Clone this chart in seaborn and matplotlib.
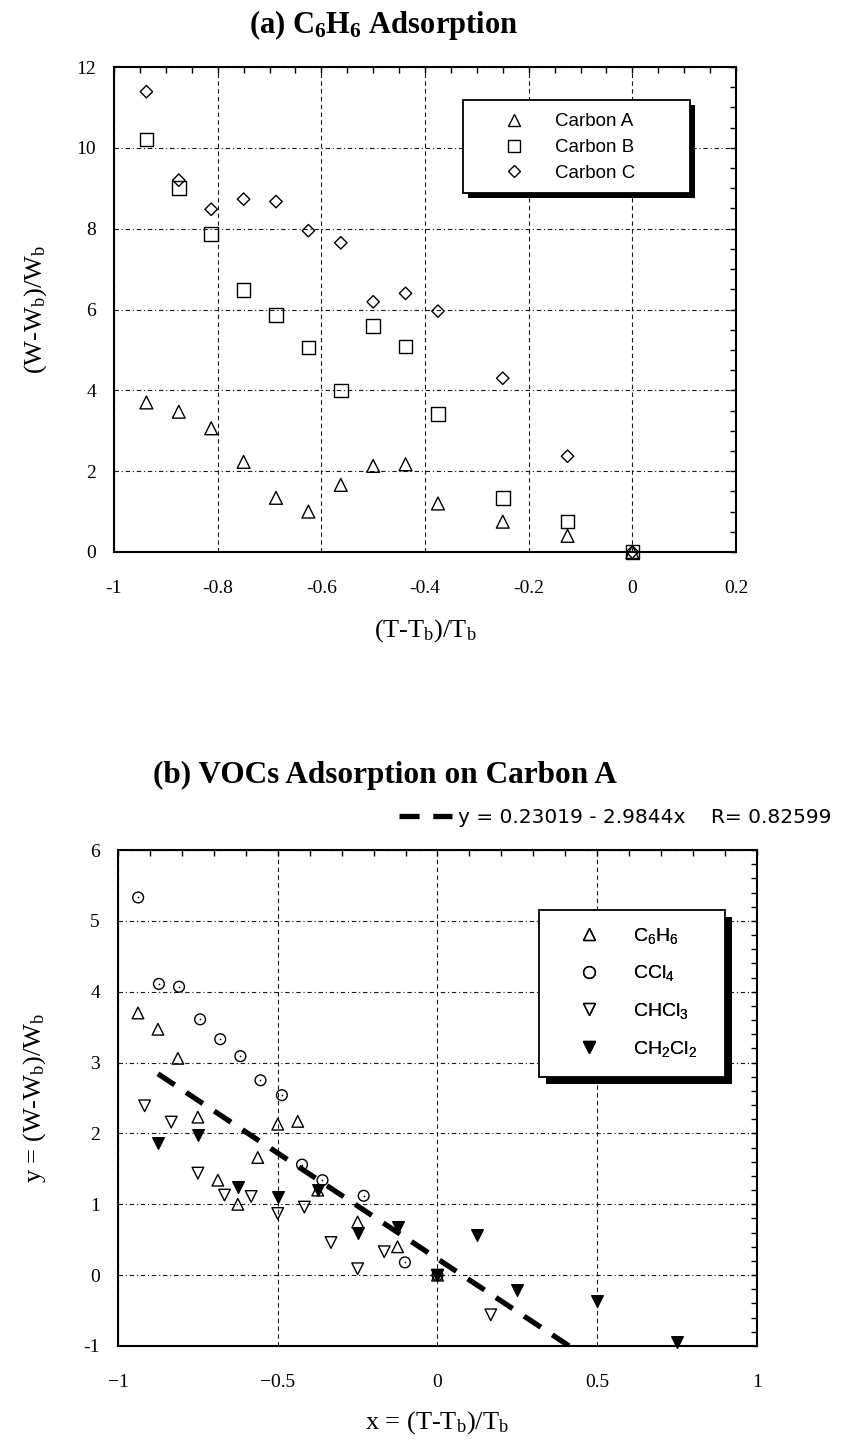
import numpy as np
import pandas as pd
import matplotlib
matplotlib.use("Agg")
import matplotlib.pyplot as plt
import matplotlib.patheffects as pe
from matplotlib.lines import Line2D
from matplotlib.patches import Rectangle
from matplotlib.ticker import MultipleLocator
import seaborn as sns

# ---------------- data: (a) benzene on three carbons ----------------
x_benzene = [-0.9375, -0.875, -0.8125, -0.75, -0.6875, -0.625, -0.5625,
             -0.5, -0.4375, -0.375, -0.25, -0.125, 0.0]
carbon_a = [3.70, 3.47, 3.06, 2.23, 1.34, 1.00, 1.66, 2.13, 2.17, 1.20, 0.75, 0.40, 0.0]
carbon_b = [10.21, 9.00, 7.87, 6.48, 5.86, 5.06, 4.00, 5.59, 5.08, 3.41, 1.34, 0.75, 0.0]
carbon_c = [11.39, 9.20, 8.48, 8.73, 8.67, 7.95, 7.65, 6.19, 6.40, 5.96, 4.30, 2.37, 0.0]

# ---------------- data: (b) VOCs on carbon A ----------------
x_ccl4 = [-0.937, -0.872, -0.809, -0.743, -0.680, -0.617, -0.554,
          -0.487, -0.424, -0.360, -0.231, -0.102, 0.0]
y_ccl4 = [5.33, 4.11, 4.07, 3.61, 3.33, 3.09, 2.75, 2.54, 1.56, 1.34, 1.12, 0.18, 0.0]

x_chcl3 = [-0.9167, -0.8333, -0.75, -0.6667, -0.5833, -0.5, -0.4167,
           -0.3333, -0.25, -0.1667, 0.0, 0.1667]
y_chcl3 = [2.39, 2.16, 1.44, 1.13, 1.11, 0.87, 0.96, 0.46, 0.09, 0.33, 0.0, -0.56]

x_ch2cl2 = [-0.875, -0.75, -0.625, -0.5, -0.375, -0.25, -0.125, 0.0,
            0.125, 0.25, 0.5, 0.75]
y_ch2cl2 = [1.86, 1.98, 1.24, 1.10, 1.20, 0.59, 0.68, 0.0, 0.56, -0.21, -0.37, -0.94]

# linear fit reported for panel (b)
fit_intercept = 0.23019
fit_slope = -2.9844
fit_r = 0.82599
fit_x_span = [-0.875, 0.75]

# ---------------- tick labels ----------------
a_xticks = [-1.0, -0.8, -0.6, -0.4, -0.2, 0.0, 0.2]
a_xlabels = ["-1", "-0.8", "-0.6", "-0.4", "-0.2", "0", "0.2"]
a_yticks = [0, 2, 4, 6, 8, 10, 12]
a_ylabels = ["0", "2", "4", "6", "8", "10", "12"]
b_xticks = [-1.0, -0.5, 0.0, 0.5, 1.0]
b_xlabels = ["\u22121", "\u22120.5", "0", "0.5", "1"]
b_yticks = [-1, 0, 1, 2, 3, 4, 5, 6]
b_ylabels = ["-1", "0", "1", "2", "3", "4", "5", "6"]

# ---------------- style ----------------
sns.set_style("white")
plt.rcParams["font.family"] = ["Liberation Serif", "DejaVu Serif"]
plt.rcParams["mathtext.default"] = "regular"
plt.rcParams["axes.linewidth"] = 1.5
for key in ("text.color", "axes.labelcolor", "xtick.color", "ytick.color",
            "axes.edgecolor"):
    plt.rcParams[key] = "black"

SANS = ["Liberation Sans", "DejaVu Sans"]

W, H = 854, 1441
fig = plt.figure(figsize=(W / 100, H / 100), dpi=100)
fig.patch.set_facecolor("white")


def px_axes(left, top, right, bottom):
    return [left / W, 1 - bottom / H, (right - left) / W, (bottom - top) / H]


ax1 = fig.add_axes(px_axes(114, 67, 736, 552))
ax2 = fig.add_axes(px_axes(118, 850, 757, 1346))


def style_axes(ax, xmaj, xmin, ymaj, ymin):
    ax.xaxis.set_major_locator(MultipleLocator(xmaj))
    ax.xaxis.set_minor_locator(MultipleLocator(xmin))
    ax.yaxis.set_major_locator(MultipleLocator(ymaj))
    ax.yaxis.set_minor_locator(MultipleLocator(ymin))
    ax.tick_params(which="both", direction="in", top=True, right=True,
                   length=4.5, width=1.0, color="black", labelsize=14,
                   labelcolor="black")
    ax.tick_params(axis="x", which="both", pad=20)
    ax.tick_params(axis="y", which="both", pad=13)
    for sp in ax.spines.values():
        sp.set_color("black")
        sp.set_linewidth(1.5)
        sp.set_zorder(5)
    ax.xaxis.grid(True, which="major", color="#1a1a1a", lw=0.8,
                  linestyle=(0, (4, 3)))
    ax.yaxis.grid(True, which="major", color="#1a1a1a", lw=0.8,
                  linestyle=(0, (4, 2.5, 1, 2.5)))
    ax.set_axisbelow(True)


def hollow(ax, x, y, marker, s, lw=1.0, filled=False):
    sns.scatterplot(x=x, y=y, ax=ax, marker=marker, s=s, color="black",
                    facecolor="black" if filled else "none",
                    edgecolor="black", linewidth=lw, clip_on=False,
                    zorder=6, legend=False)


# ================= panel (a) =================
hollow(ax1, x_benzene, carbon_a, "^", 85)
hollow(ax1, x_benzene, carbon_b, "s", 95)
hollow(ax1, x_benzene, carbon_c, "D", 40)

ax1.set_xlim(-1.0, 0.2)
ax1.set_ylim(0, 12)
style_axes(ax1, 0.2, 0.05, 2, 0.5)
ax1.set_xticks(a_xticks, a_xlabels)
ax1.set_yticks(a_yticks, a_ylabels)
ax1.set_xlabel(r"(T-T$_{b}$)/T$_{b}$", fontsize=19)
ax1.xaxis.set_label_coords(0.5, -0.135)
ax1.set_ylabel(r"(W-W$_{b}$)/W$_{b}$", fontsize=19)
ax1.yaxis.set_label_coords(-0.105, 0.5)

# legend frame with a solid drop shadow
frame_a = Rectangle((0.561, 0.740), 0.365, 0.192, transform=ax1.transAxes,
                    facecolor="white", edgecolor="black", lw=1.3, zorder=8)
frame_a.set_path_effects([pe.SimplePatchShadow(offset=(3.5, -3.5),
                                                shadow_rgbFace="black", alpha=1.0),
                          pe.Normal()])
ax1.add_patch(frame_a)
handles_a = [
    Line2D([], [], ls="none", marker="^", ms=9, mfc="none", mec="black", mew=1.0),
    Line2D([], [], ls="none", marker="s", ms=9, mfc="none", mec="black", mew=1.0),
    Line2D([], [], ls="none", marker="D", ms=6.3, mfc="none", mec="black", mew=1.0),
]
leg_a = ax1.legend(handles_a, ["Carbon A", "Carbon B", "Carbon C"],
                   loc="center left", bbox_to_anchor=(0.62, 0.834),
                   frameon=False, borderpad=0, borderaxespad=0,
                   handlelength=1.5, handletextpad=1.45, labelspacing=0.47,
                   prop={"family": SANS, "size": 13.5})
leg_a.set_zorder(9)

# ================= panel (b) =================
fit_y = [fit_intercept + fit_slope * v for v in fit_x_span]
fit_df = pd.DataFrame({"x": fit_x_span, "y": fit_y})
sns.lineplot(data=fit_df, x="x", y="y", ax=ax2, color="black", lw=3.8,
             dashes=False, zorder=4, legend=False)
fit_line = ax2.lines[-1]
fit_line.set_dashes((3.8, 2.6))
fit_line.set_dash_capstyle("butt")

hollow(ax2, x_benzene, carbon_a, "^", 70)
hollow(ax2, x_ccl4, y_ccl4, "o", 60)
sns.scatterplot(x=x_ccl4, y=y_ccl4, ax=ax2, marker="o", s=1.5, color="black",
                linewidth=0, zorder=7, legend=False, clip_on=False)
hollow(ax2, x_chcl3, y_chcl3, "v", 70)
hollow(ax2, x_ch2cl2, y_ch2cl2, "v", 70, filled=True)

ax2.set_xlim(-1.0, 1.0)
ax2.set_ylim(-1, 6)
style_axes(ax2, 0.5, 0.1, 1, 0.2)
ax2.set_xticks(b_xticks, b_xlabels)
ax2.set_yticks(b_yticks, b_ylabels)
ax2.set_xlabel(r"x = (T-T$_{b}$)/T$_{b}$", fontsize=19)
ax2.xaxis.set_label_coords(0.5, -0.128)
ax2.set_ylabel(r"y = (W-W$_{b}$)/W$_{b}$", fontsize=19)
ax2.yaxis.set_label_coords(-0.11, 0.5)

frame_b = Rectangle((0.659, 0.542), 0.291, 0.337, transform=ax2.transAxes,
                    facecolor="white", edgecolor="black", lw=1.3, zorder=8)
frame_b.set_path_effects([pe.SimplePatchShadow(offset=(5, -5),
                                                shadow_rgbFace="black", alpha=1.0),
                          pe.Normal()])
ax2.add_patch(frame_b)
handles_b = [
    Line2D([], [], ls="none", marker="^", ms=9, mfc="none", mec="black", mew=1.0),
    Line2D([], [], ls="none", marker="o", ms=8.5, mfc="none", mec="black", mew=1.0),
    Line2D([], [], ls="none", marker="v", ms=9, mfc="none", mec="black", mew=1.0),
    Line2D([], [], ls="none", marker="v", ms=9, mfc="black", mec="black", mew=1.0),
]
labels_b = [r"C$_{6}$H$_{6}$", r"CCl$_{4}$", r"CHCl$_{3}$", r"CH$_{2}$Cl$_{2}$"]
leg_b = ax2.legend(handles_b, labels_b, loc="center left",
                   bbox_to_anchor=(0.715, 0.713), frameon=False,
                   borderpad=0, borderaxespad=0, handlelength=1.5,
                   handletextpad=1.5, labelspacing=0.92,
                   prop={"family": SANS, "size": 14})
leg_b.set_zorder(9)
ax2.add_artist(leg_b)

# fit equation key above the panel
fit_handle = Line2D([], [], color="black", lw=3.8, dashes=(3.8, 2.6),
                    dash_capstyle="butt")
leg_fit = ax2.legend([fit_handle],
                     [f"y = {fit_intercept:.5f} - {-fit_slope:.4f}x    R= {fit_r:.5f}"],
                     loc="center left", bbox_to_anchor=(0.44, 1.066),
                     frameon=False, borderpad=0, borderaxespad=0,
                     handlelength=2.6, handletextpad=0.3,
                     prop={"family": ["DejaVu Sans"], "size": 14.5})
ax2.add_artist(leg_b)

# ================= titles =================
fig.text(384 / W, 1 - 33 / H, r"(a) C$_{6}$H$_{6}$ Adsorption",
         ha="center", va="baseline", fontsize=22, fontweight="bold")
fig.text(385 / W, 1 - 783 / H, "(b) VOCs Adsorption on Carbon A",
         ha="center", va="baseline", fontsize=22.5, fontweight="bold")

fig.savefig("out.png", dpi=100, facecolor="white")
